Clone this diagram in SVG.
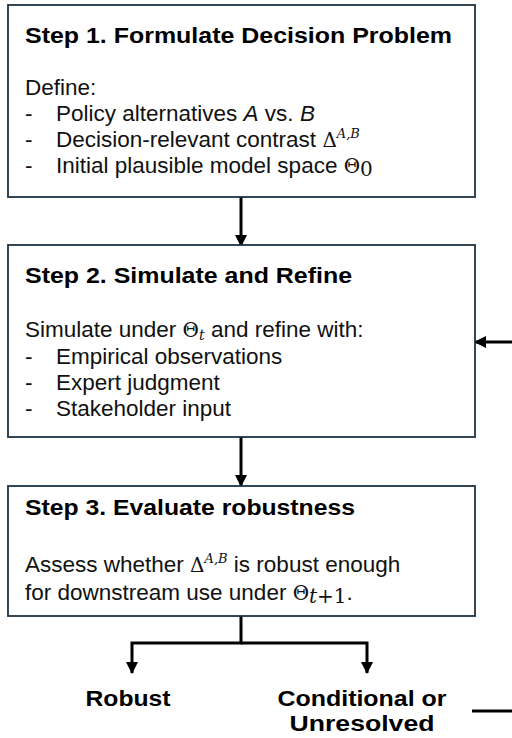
<svg xmlns="http://www.w3.org/2000/svg" width="512" height="738" viewBox="0 0 512 738">
<defs>
<marker id="ah" viewBox="0 0 12 12" refX="11" refY="6" markerWidth="12" markerHeight="12" markerUnits="userSpaceOnUse" orient="auto">
<path d="M0,0 L12,6 L0,12 z" fill="#000"/>
</marker>
</defs>
<style>
.box{fill:#fff;stroke:#1e3344;stroke-width:1.8}
.t{font-family:"Liberation Sans",Arial,sans-serif;font-size:22px;font-weight:bold;fill:#000}
.b{font-family:"Liberation Sans",Arial,sans-serif;font-size:22.5px;fill:#111}
.m{font-family:"DejaVu Serif","Liberation Serif",serif;font-size:20px}
.mi{font-family:"DejaVu Serif","Liberation Serif",serif;font-style:italic}
.o{font-family:"Liberation Sans",Arial,sans-serif;font-size:22px;font-weight:bold;fill:#000;text-anchor:middle}
.c{fill:none;stroke:#000;stroke-width:3}
</style>
<rect width="512" height="738" fill="#fff"/>
<g id="connectors">
<line class="c" x1="241" y1="197" x2="241" y2="246" marker-end="url(#ah)"/>
<line class="c" x1="241" y1="437" x2="241" y2="486" marker-end="url(#ah)"/>
<polyline class="c" points="241,616 241,643 132,643 132,673" marker-end="url(#ah)"/>
<polyline class="c" points="241,643 367,643 367,673" marker-end="url(#ah)"/>
<line class="c" x1="472" y1="711" x2="512" y2="711"/>
<line class="c" x1="512" y1="342" x2="475" y2="342" marker-end="url(#ah)"/>
</g>
<g id="step1">
<rect class="box" x="8" y="5" width="467" height="192"/>
<text class="t" x="25" y="43" textLength="427" lengthAdjust="spacingAndGlyphs">Step 1. Formulate Decision Problem</text>
<text class="b" x="25" y="95">Define:</text>
<text class="b" x="25" y="121">-</text>
<text class="b" x="56" y="121">Policy alternatives  <tspan font-style="italic">A</tspan> vs. <tspan font-style="italic">B</tspan></text>
<text class="b" x="25" y="147">-</text>
<text class="b" x="56" y="147">Decision-relevant contrast <tspan class="m">Δ</tspan><tspan class="mi" font-size="13" dy="-9">A,B</tspan></text>
<text class="b" x="25" y="173">-</text>
<text class="b" x="56" y="173">Initial plausible model space <tspan class="m">Θ</tspan><tspan class="m" font-size="12" dy="3">0</tspan></text>
</g>
<g id="step2">
<rect class="box" x="8" y="245" width="467" height="192"/>
<text class="t" x="25" y="283" textLength="327" lengthAdjust="spacingAndGlyphs">Step 2. Simulate and Refine</text>
<text class="b" x="25" y="337">Simulate under <tspan class="m">Θ</tspan><tspan class="mi" font-size="14" dy="3">t</tspan><tspan dy="-3">  and refine with:</tspan></text>
<text class="b" x="25" y="364">-</text>
<text class="b" x="56" y="364">Empirical observations</text>
<text class="b" x="25" y="390">-</text>
<text class="b" x="56" y="390">Expert judgment</text>
<text class="b" x="25" y="416">-</text>
<text class="b" x="56" y="416">Stakeholder input</text>
</g>
<g id="step3">
<rect class="box" x="8" y="486" width="467" height="130"/>
<text class="t" x="25" y="515" textLength="330" lengthAdjust="spacingAndGlyphs">Step 3. Evaluate robustness</text>
<text class="b" x="25" y="572">Assess whether <tspan class="m">Δ</tspan><tspan class="mi" font-size="13" dy="-9">A,B</tspan><tspan dy="9">  is robust enough</tspan></text>
<text class="b" x="25" y="600">for downstream use under <tspan class="m">Θ</tspan><tspan class="m" font-size="13" dy="3"><tspan font-style="italic">t</tspan>+1</tspan><tspan dy="-3">.</tspan></text>
</g>
<g id="robust">
<text class="o" x="128" y="706" textLength="85" lengthAdjust="spacingAndGlyphs">Robust</text>
</g>
<g id="conditional">
<text class="o" x="362" y="706" textLength="169" lengthAdjust="spacingAndGlyphs">Conditional or</text>
<text class="o" x="362" y="731" textLength="145" lengthAdjust="spacingAndGlyphs">Unresolved</text>
</g>
</svg>
